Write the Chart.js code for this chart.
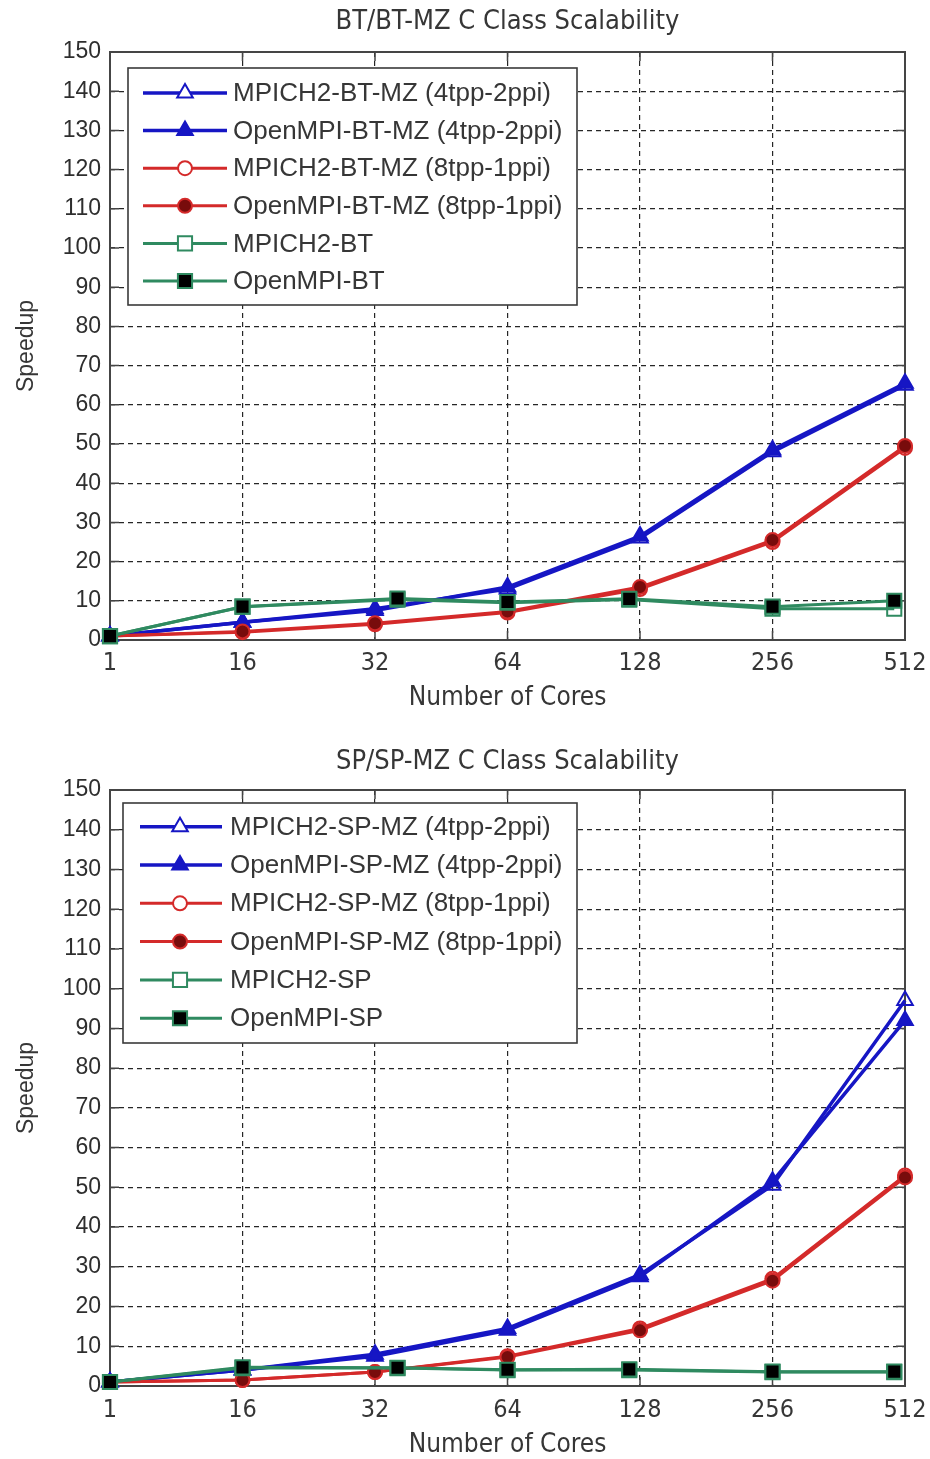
<!DOCTYPE html>
<html><head><meta charset="utf-8">
<script src="https://cdn.jsdelivr.net/npm/chart.js@4"></script>
<style>
html,body{margin:0;padding:0;background:#fff;}
#wrap{position:relative;width:930px;height:1459px;background:#fff;}
canvas{position:absolute;left:0;}
</style></head><body>
<div id="wrap">
<canvas id="c1" width="930" height="712" style="top:0px"></canvas>
<canvas id="c2" width="930" height="747" style="top:712px"></canvas>
</div>
<script>
// ---------- data ----------
const xTickLabels = ['1', '16', '32', '64', '128', '256', '512'];
const tickCores = [1, 16, 32, 64, 128, 256, 512];
const mzCores = [1, 16, 32, 64, 128, 256, 512];
const btCores = [1, 16, 36, 64, 121, 256, 484];
const spCores = [1, 16, 36, 64, 121, 256, 484];

const btTitle = 'BT/BT-MZ C Class Scalability';
const btNames = ['MPICH2-BT-MZ (4tpp-2ppi)', 'OpenMPI-BT-MZ (4tpp-2ppi)', 'MPICH2-BT-MZ (8tpp-1ppi)', 'OpenMPI-BT-MZ (8tpp-1ppi)', 'MPICH2-BT', 'OpenMPI-BT'];
const mpich2BtMz4 = [1, 4.5, 8, 13, 26, 48, 65];
const openmpiBtMz4 = [1, 4.5, 7.5, 13.5, 26.5, 48.5, 65.5];
const mpich2BtMz8 = [1, 2, 4, 7, 13, 25, 49];
const openmpiBtMz8 = [1, 2.2, 4.3, 7.3, 13.5, 25.5, 49.5];
const mpich2Bt = [1, 8.5, 10.3, 9.5, 10.3, 8, 8];
const openmpiBt = [1, 8.5, 10.6, 9.7, 10.5, 8.5, 10];

const spTitle = 'SP/SP-MZ C Class Scalability';
const spNames = ['MPICH2-SP-MZ (4tpp-2ppi)', 'OpenMPI-SP-MZ (4tpp-2ppi)', 'MPICH2-SP-MZ (8tpp-1ppi)', 'OpenMPI-SP-MZ (8tpp-1ppi)', 'MPICH2-SP', 'OpenMPI-SP'];
const mpich2SpMz4 = [1, 4, 8, 14.5, 28, 50.5, 97];
const openmpiSpMz4 = [1, 4, 7.5, 14, 27.5, 51.5, 92];
const mpich2SpMz8 = [1, 1.5, 3.5, 7.5, 14.5, 27, 53];
const openmpiSpMz8 = [1, 1.5, 3.5, 7.3, 14, 26.5, 52.5];
const mpich2Sp = [1, 4.5, 4.5, 4, 4, 3.5, 3.5];
const openmpiSp = [1, 4.7, 4.6, 4.1, 4.2, 3.6, 3.6];

// ---------- styling ----------
const BLUE = '#1616c4', RED = '#d42a2a', DRED = '#780c0c', GREEN = '#2f8a60';
const seriesStyles = [
  {color: BLUE, fill: 'rgba(0,0,0,0)', lfill: '#fff', shape: 'triangle', r: 9, w: 3.5},
  {color: BLUE, fill: BLUE, lfill: BLUE, shape: 'triangle', r: 9, w: 3.5},
  {color: RED, fill: 'rgba(0,0,0,0)', lfill: '#fff', shape: 'circle', r: 7, w: 3},
  {color: RED, fill: DRED, lfill: DRED, shape: 'circle', r: 7, w: 3},
  {color: GREEN, fill: 'rgba(0,0,0,0)', lfill: '#fff', shape: 'rect', r: 10, w: 3},
  {color: GREEN, fill: '#000', lfill: '#000', shape: 'rect', r: 10, w: 3}
];
const NARROW = '"Liberation Sans Narrow", "DejaVu Sans Condensed", "Roboto Condensed", "Liberation Sans", Arial, sans-serif';
const REG = '"Liberation Sans", Arial, sans-serif';
const TXT = '#363636';

function corePos(c) {
  for (let i = 0; i < tickCores.length - 1; i++) {
    if (c <= tickCores[i + 1]) return i + Math.log2(c / tickCores[i]) / Math.log2(tickCores[i + 1] / tickCores[i]);
  }
  return tickCores.length - 1;
}

function drawMarker(ctx, shape, x, y, r) {
  ctx.beginPath();
  if (shape === 'triangle') {
    ctx.moveTo(x, y - r);
    ctx.lineTo(x + Math.sin(2 * Math.PI / 3) * r, y + r / 2);
    ctx.lineTo(x - Math.sin(2 * Math.PI / 3) * r, y + r / 2);
    ctx.closePath();
  } else if (shape === 'circle') {
    ctx.arc(x, y, r, 0, Math.PI * 2);
  } else {
    const s = r * Math.SQRT1_2;
    ctx.rect(x - s, y - s, 2 * s, 2 * s);
  }
  ctx.fill();
  ctx.stroke();
}

const framePlugin = {
  id: 'frame',
  beforeDatasetsDraw(chart) {
    const {ctx, chartArea: a, scales: {x, y}} = chart;
    ctx.save();
    ctx.setLineDash([]);
    ctx.strokeStyle = '#454545';
    ctx.lineWidth = 1.5;
    const tl = 9;
    ctx.beginPath();
    x.ticks.forEach((t, i) => {
      const px = x.getPixelForTick(i);
      ctx.moveTo(px, a.top); ctx.lineTo(px, a.top + tl);
      ctx.moveTo(px, a.bottom); ctx.lineTo(px, a.bottom - tl);
    });
    y.ticks.forEach((t, i) => {
      const py = y.getPixelForTick(i);
      ctx.moveTo(a.left, py); ctx.lineTo(a.left + tl, py);
      ctx.moveTo(a.right, py); ctx.lineTo(a.right - tl, py);
    });
    ctx.stroke();
    ctx.lineWidth = 2;
    ctx.strokeRect(a.left, a.top, a.right - a.left, a.bottom - a.top);
    ctx.restore();
  },
  afterDatasetsDraw(chart, args, o) {
    const ctx = chart.ctx;
    ctx.save();
    ctx.setLineDash([]);
    ctx.fillStyle = '#fff';
    ctx.fillRect(o.x, o.y, o.w, o.h);
    ctx.strokeStyle = '#3a3a3a';
    ctx.lineWidth = 1.6;
    ctx.strokeRect(o.x, o.y, o.w, o.h);
    chart.data.datasets.forEach((ds, i) => {
      const st = seriesStyles[i];
      const ry = o.row0 + i * o.step;
      ctx.strokeStyle = st.color;
      ctx.lineWidth = st.w;
      ctx.beginPath();
      ctx.moveTo(o.line0, ry); ctx.lineTo(o.line1, ry);
      ctx.stroke();
      ctx.fillStyle = st.lfill;
      ctx.lineWidth = 2;
      drawMarker(ctx, st.shape, o.mark, ry, st.r);
      ctx.fillStyle = TXT;
      ctx.font = o.font;
      ctx.textBaseline = 'middle';
      ctx.textAlign = 'left';
      ctx.fillText(ds.label, o.text, ry + 1);
    });
    ctx.restore();
  }
};

function makeChart(id, title, names, series, coresList, g) {
  const datasets = series.map((vals, i) => {
    const st = seriesStyles[i];
    return {
      label: names[i],
      data: vals.map((v, k) => ({x: corePos(coresList[i][k]), y: v})),
      borderColor: st.color,
      borderWidth: st.w,
      backgroundColor: st.fill,
      pointBackgroundColor: st.fill,
      pointBorderColor: st.color,
      pointBorderWidth: 2,
      pointStyle: st.shape,
      pointRadius: st.r,
      pointHoverRadius: st.r,
      tension: 0,
      fill: false,
      clip: false,
      order: series.length - i
    };
  });
  return new Chart(document.getElementById(id), {
    type: 'line',
    data: {datasets},
    options: {
      responsive: false,
      animation: false,
      devicePixelRatio: 1,
      layout: {padding: {left: 0, right: 25, top: 0, bottom: 0}},
      plugins: {
        legend: {display: false},
        tooltip: {enabled: false},
        title: {
          display: true, text: title, color: TXT, fullSize: false,
          font: {family: NARROW, size: 27, weight: 'normal', lineHeight: 1},
          padding: {top: g.titleTop, bottom: g.titleBottom}
        },
        frame: g.legend
      },
      scales: {
        x: {
          type: 'linear', min: 0, max: 6,
          afterFit: s => { s.height = g.xHeight; s.paddingLeft = 0; s.paddingRight = 0; },
          grid: {color: '#262626', lineWidth: 1.2, drawTicks: false},
          border: {display: false, dash: [5, 4]},
          ticks: {
            stepSize: 1, autoSkip: false, maxRotation: 0, padding: g.xPad, color: TXT,
            font: {family: NARROW, size: 25, lineHeight: 1},
            callback: v => xTickLabels[v]
          },
          title: {display: true, text: 'Number of Cores', color: TXT,
            font: {family: NARROW, size: 26, lineHeight: 1}, padding: {top: 0, bottom: g.xTitlePad}}
        },
        y: {
          min: 0, max: 150,
          afterFit: s => { s.width = 110; },
          grid: {color: '#262626', lineWidth: 1.2, drawTicks: false},
          border: {display: false, dash: [5, 4]},
          ticks: {stepSize: 10, padding: 9, color: '#2e2e2e', font: {family: REG, size: 23, lineHeight: 1}},
          title: {display: true, text: 'Speedup', color: TXT,
            font: {family: REG, size: 23, lineHeight: 1}, padding: {top: 15, bottom: 0}}
        }
      }
    },
    plugins: [framePlugin]
  });
}

makeChart('c1', btTitle, btNames,
  [mpich2BtMz4, openmpiBtMz4, mpich2BtMz8, openmpiBtMz8, mpich2Bt, openmpiBt],
  [mzCores, mzCores, mzCores, mzCores, btCores, btCores],
  {titleTop: 8.5, titleBottom: 16.5, xHeight: 72, xPad: 11, xTitlePad: 0.5,
   legend: {x: 128, y: 68, w: 449, h: 237, row0: 93, step: 37.6, line0: 143, line1: 227, mark: 185, text: 233,
     font: '26px "Liberation Sans", Arial, sans-serif'}});

makeChart('c2', spTitle, spNames,
  [mpich2SpMz4, openmpiSpMz4, mpich2SpMz8, openmpiSpMz8, mpich2Sp, openmpiSp],
  [mzCores, mzCores, mzCores, mzCores, spCores, spCores],
  {titleTop: 36.5, titleBottom: 14.5, xHeight: 73, xPad: 12, xTitlePad: 0.5,
   legend: {x: 123, y: 91, w: 454, h: 240, row0: 114.7, step: 38.3, line0: 140, line1: 222, mark: 180, text: 230,
     font: '26px "Liberation Sans", Arial, sans-serif'}});
</script>
</body></html>
